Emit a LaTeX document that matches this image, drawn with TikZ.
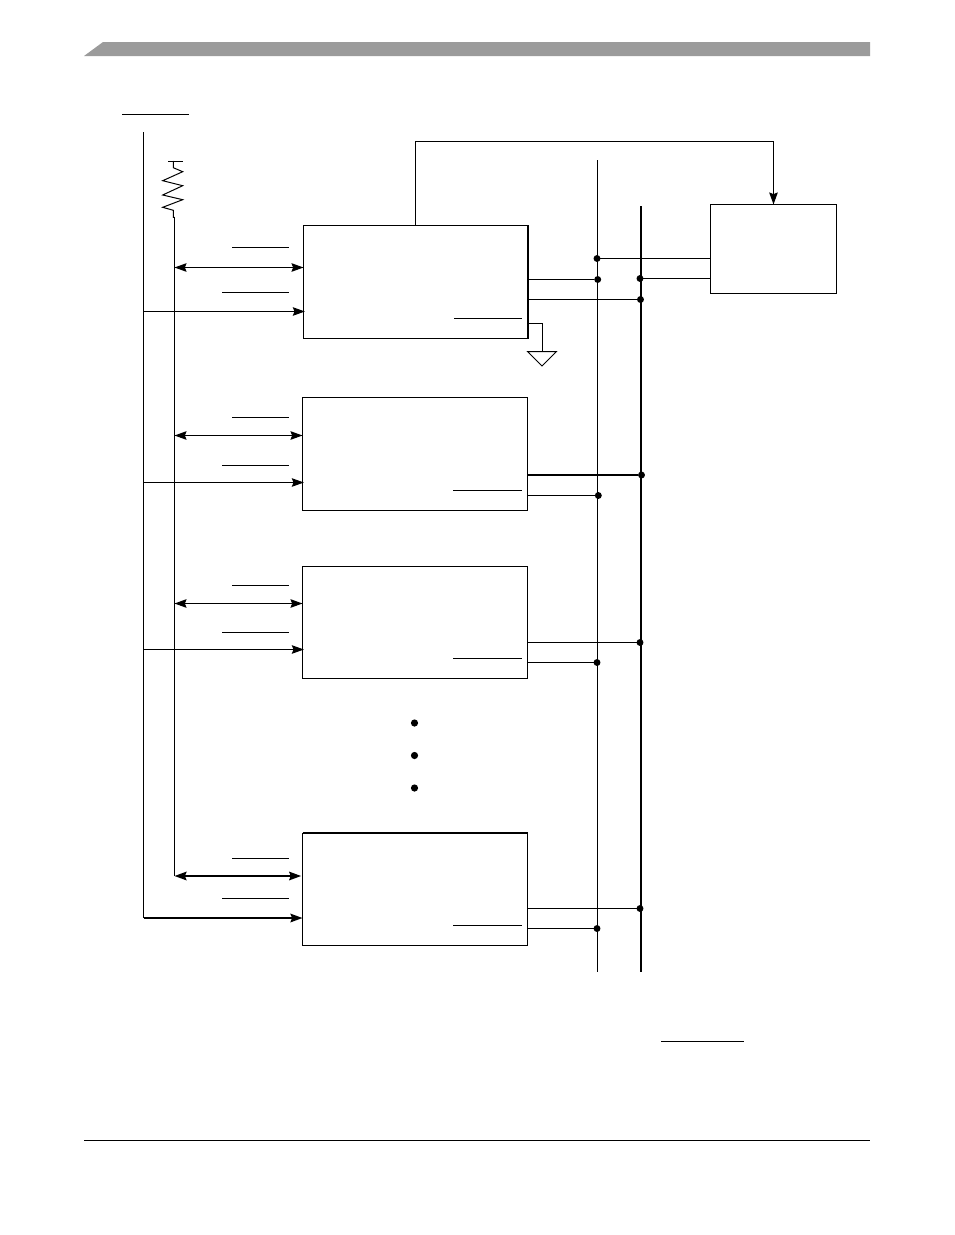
\documentclass[tikz,border=0pt]{standalone}
\usetikzlibrary{arrows.meta}
\tikzset{
  px/.style={x=0.75pt,y=-0.75pt},
  thin line/.style={line width=0.75pt,black},
  bold line/.style={line width=1.5pt,black},
  rule line/.style={line width=0.75pt,black},
  block/.style={draw,thin line,fill=white,inner sep=0pt,outer sep=0pt,minimum width=#1*0.75pt},
  blockh/.style={minimum height=#1*0.75pt},
  junction/.style={circle,fill=black,inner sep=0pt,outer sep=0pt,minimum size=5.2pt},
  bigdot/.style={circle,fill=black,inner sep=0pt,outer sep=0pt,minimum size=5.4pt},
  tip/.style={-{Stealth[length=9pt,width=6.4pt,inset=1.2pt]}},
  bitip/.style={{Stealth[length=9pt,width=6.4pt,inset=1.2pt]}-{Stealth[length=9pt,width=6.4pt,inset=1.2pt]}},
}
\definecolor{headergray}{HTML}{9B9B9B}
\begin{document}
\begin{tikzpicture}[px]
\useasboundingbox (0,0) rectangle (954,1235);
% page furniture
\fill[headergray] (84,56) -- (103,42) -- (870,42) -- (870,56) -- cycle;
\draw[rule line] (84,1140.5) -- (870,1140.5);
\draw[rule line] (122,114.5) -- (189,114.5);
\draw[rule line] (661,1041.5) -- (744,1041.5);
% buses
\coordinate (busAtop) at (597.5,160);
\coordinate (busAbot) at (597.5,971.5);
\coordinate (busBtop) at (641,206);
\coordinate (busBbot) at (641,971.5);
\draw[thin line] (busAtop) -- (busAbot);
\draw[bold line] (busBtop) -- (busBbot);
% left rails
\coordinate (railTop) at (143.5,132);
\coordinate (railCorner) at (143.5,918);
\coordinate (pullTop) at (173.5,161);
\coordinate (pullJoin) at (174.5,217.3);
\coordinate (pullCorner) at (174.5,876);
% blocks
\node[block=224.5,blockh=113] (b1) at (415.75,282) {};
\node[block=225,blockh=113] (b2) at (415,454) {};
\node[block=225,blockh=112] (b3) at (415,622.5) {};
\node[block=225,blockh=112.5] (b4) at (415,889.25) {};
\node[block=126,blockh=89] (mem) at (773.5,249) {};
\draw[bold line] (b1.north east) -- (b1.south east);
\draw[bold line] (b4.north west) -- (b4.north east);
% left rail and pull-up
\draw[thin line] (railTop) -- (railCorner);
\draw[thin line] (pullJoin) -- (pullCorner);
\draw[thin line] (168,161.5) -- (183,161.5);
\draw[thin line,line join=miter] (pullTop) -- (173.3,167.7) -- (182.7,171.7) -- (162.7,180.7) -- (182.7,185.7) -- (162.7,195) -- (182.7,199.7) -- (162.7,207.3) -- (173.3,210.3) -- (173.3,217.3) -- (pullJoin);
% feedback to memory block
\coordinate (fbA) at (415.5,141.5);
\coordinate (fbB) at (773.5,141.5);
\draw[thin line,tip] (b1.north -| fbA) -- (fbA) -- (fbB) -- (mem.north);
% block connectors
\foreach \blk/\ya/\yb/\lo/\hi/\inn/\inl in {
  b1/267.5/311.5/247.5/292.5/318.5/454,
  b2/435.5/482.5/417.5/465.5/490.5/453,
  b3/603.5/649.5/585.5/632.5/658.5/453}{
  \draw[thin line,bitip] (174.5,\ya) -- (\blk.west |- 0,\ya);
  \draw[thin line,tip,shorten >=-1pt] (143.5,\yb) -- (\blk.west |- 0,\yb);
  \draw[rule line] (232,\lo) -- (289,\lo);
  \draw[rule line] (222,\hi) -- (289,\hi);
  \draw[rule line] (\inl,\inn) -- (522,\inn);
}
% block 4 connectors
\draw[bold line,bitip,shorten >=1pt] (pullCorner) -- (b4.west |- pullCorner);
\draw[bold line,tip] (railCorner) -- (b4.west |- railCorner);
\draw[rule line] (232,858.5) -- (289,858.5);
\draw[rule line] (222,898.5) -- (289,898.5);
\draw[rule line] (453,925.5) -- (522,925.5);
% junctions
\node[junction] (j1) at (597,258.5) {};
\node[junction] (j2) at (640,278.5) {};
\node[junction] (j3) at (597.7,279.5) {};
\node[junction] (j4) at (640.5,299.5) {};
\node[junction] (j5) at (641.5,475) {};
\node[junction] (j6) at (598.3,495.5) {};
\node[junction] (j7) at (640,642.5) {};
\node[junction] (j8) at (597,662.5) {};
\node[junction] (j9) at (640,908.5) {};
\node[junction] (j10) at (597,928.5) {};
\draw[thin line] (j1) -- (mem.west |- j1);
\draw[thin line] (j2) -- (mem.west |- j2);
\draw[thin line] (b1.east |- j3) -- (j3);
\draw[thin line] (b1.east |- j4) -- (j4);
\draw[bold line] (b2.east |- j5) -- (j5);
\draw[thin line] (b2.east |- j6) -- (j6);
\draw[thin line] (b3.east |- j7) -- (j7);
\draw[thin line] (b3.east |- j8) -- (j8);
\draw[thin line] (b4.east |- j9) -- (j9);
\draw[thin line] (b4.east |- j10) -- (j10);
% ground
\coordinate (gndA) at (542.5,323.5);
\coordinate (gndB) at (542.5,351.5);
\draw[thin line] (b1.east |- gndA) -- (gndA) -- (gndB);
\draw[thin line,line join=miter] (527.5,351.5) -- (556.5,351.5) -- (542,366) -- cycle;
% continuation dots
\node[bigdot] (d1) at (414.5,723) {};
\node[bigdot] (d2) at (414.5,755.5) {};
\node[bigdot] (d3) at (414.5,788) {};
\end{tikzpicture}
\end{document}
